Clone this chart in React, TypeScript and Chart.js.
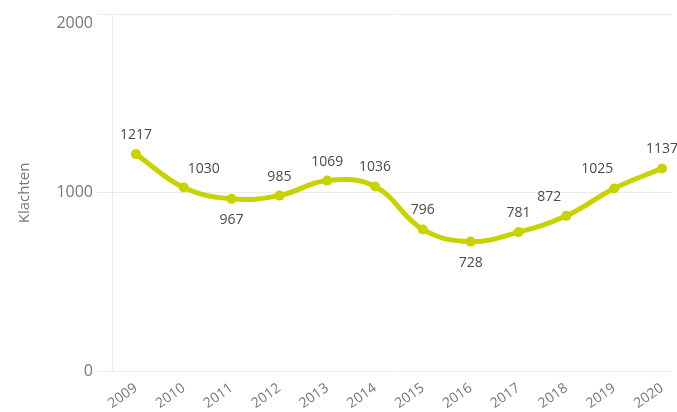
import React, { useEffect, useRef } from "react";
import { Chart, registerables } from "chart.js";

Chart.register(...registerables);

const years = [2009, 2010, 2011, 2012, 2013, 2014, 2015, 2016, 2017, 2018, 2019, 2020];
const klachten = [1217, 1030, 967, 985, 1069, 1036, 796, 728, 781, 872, 1025, 1137];
const labelPlacement = ["above", "aboveRight", "below", "above", "above", "above", "above", "below", "above", "aboveLeft", "aboveLeft", "above"];
const yTicks = [0, 1000, 2000];
const yTitle = "Klachten";

const FONT = "'Open Sans', 'Noto Sans', sans-serif";
const LINE = "#c8d200";

const labelPlugin = {
  id: "pointLabels",
  afterDatasetsDraw(chart: any) {
    const { ctx } = chart;
    const meta = chart.getDatasetMeta(0);
    ctx.save();
    ctx.font = `14px ${FONT}`;
    ctx.fillStyle = "#4a4a4a";
    ctx.textAlign = "center";
    ctx.textBaseline = "middle";
    meta.data.forEach((pt: any, i: number) => {
      const place = labelPlacement[i];
      let dx = 0;
      let dy = -19;
      if (place === "below") dy = 21;
      if (place === "aboveRight") dx = 20;
      if (place === "aboveLeft") dx = -17;
      ctx.fillText(String(klachten[i]), pt.x + dx, pt.y + dy);
    });
    ctx.restore();
  },
};

export default function App() {
  const ref = useRef<HTMLCanvasElement>(null);
  useEffect(() => {
    document.body.style.margin = "0";
    const chart = new Chart(ref.current!, {
      type: "line",
      data: {
        datasets: [
          {
            data: years.map((y, i) => ({ x: y, y: klachten[i] })),
            borderColor: LINE,
            backgroundColor: LINE,
            borderWidth: 5,
            pointRadius: 5,
            pointBackgroundColor: LINE,
            pointBorderWidth: 0,
            tension: 0.4,
          },
        ],
      },
      options: {
        animation: false,
        responsive: false,
        maintainAspectRatio: false,
        layout: { padding: { top: 14, right: 0, left: 0, bottom: 0 } },
        plugins: { legend: { display: false }, tooltip: { enabled: false } },
        scales: {
          x: {
            type: "linear",
            min: 2008.5,
            max: 2020.21,
            grid: { display: false },
            border: { display: false },
            afterBuildTicks(scale: any) {
              scale.ticks = years.map((v) => ({ value: v }));
            },
            ticks: {
              minRotation: 35,
              maxRotation: 35,
              color: "#777",
              font: { family: FONT, size: 14 },
              padding: 0,
              callback: (v: any) => String(v),
            },
          },
          y: {
            min: 0,
            max: 2000,
            afterBuildTicks(scale: any) {
              scale.ticks = yTicks.map((v) => ({ value: v }));
            },
            afterFit(scale: any) {
              scale.width = 112;
              scale.paddingTop = 0;
            },
            grid: { color: "#ececec", tickLength: 15, lineWidth: 1 },
            border: { display: true, color: "#ececec" },
            ticks: {
              color: "#777",
              font: { family: FONT, size: 16 },
              padding: 4,
              callback: (v: any) => (v === yTicks[yTicks.length - 1] ? ["", String(v)] : String(v)),
            },
            title: {
              display: true,
              text: yTitle,
              color: "#777",
              font: { family: FONT, size: 15 },
              padding: { top: 16, bottom: 4 },
            },
          },
        },
      },
      plugins: [labelPlugin],
    });
    return () => chart.destroy();
  }, []);
  return (
    <div style={{ width: 677, height: 412 }}>
      <canvas ref={ref} width={677} height={412} />
    </div>
  );
}
